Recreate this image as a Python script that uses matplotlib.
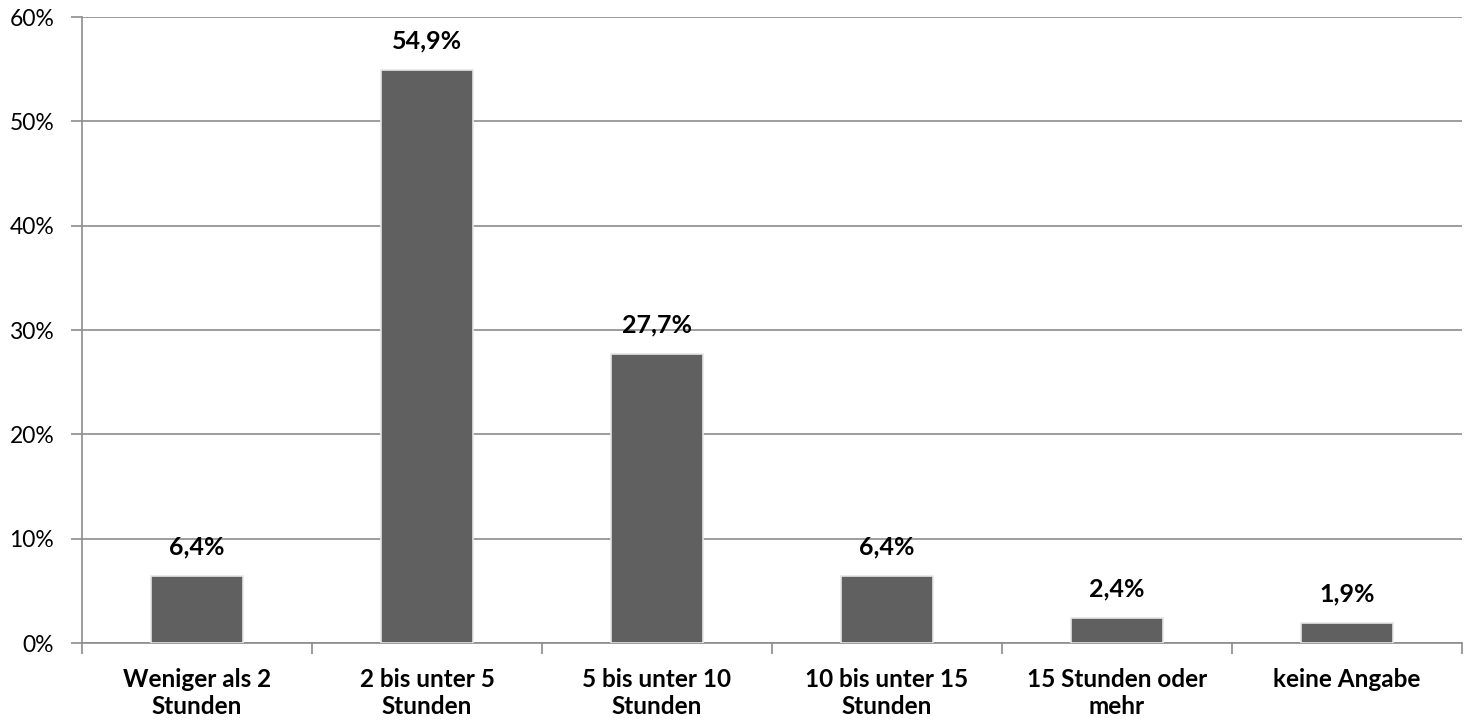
import matplotlib.pyplot as plt
from matplotlib.ticker import FuncFormatter

categories = ['Weniger als 2\nStunden', '2 bis unter 5\nStunden', '5 bis unter 10\nStunden',
              '10 bis unter 15\nStunden', '15 Stunden oder\nmehr', 'keine Angabe']
shares = [6.4, 54.9, 27.7, 6.4, 2.4, 1.9]
value_labels = ['6,4%', '54,9%', '27,7%', '6,4%', '2,4%', '1,9%']

plt.rcParams['font.family'] = ['Lato', 'DejaVu Sans']

fig = plt.figure(figsize=(14.67, 7.21), dpi=100)
ax = fig.add_axes([82 / 1467, 78 / 721, 1380 / 1467, 626 / 721])

x = list(range(len(categories)))
ax.bar(x, shares, width=0.4, color='#606060', edgecolor='#e6e6e6', linewidth=1.2, zorder=3)

for xi, v, lab in zip(x, shares, value_labels):
    ax.text(xi, v + 2.1, lab, ha='center', va='baseline', fontsize=18, fontweight='bold', color='black')

ax.set_xlim(-0.5, len(categories) - 0.5)
ax.set_ylim(0, 60)
ax.set_yticks(range(0, 61, 10))
ax.yaxis.set_major_formatter(FuncFormatter(lambda v, p: f'{int(v)}%'))
ax.yaxis.grid(True, color='#8c8c8c', linewidth=1.2, zorder=0)

ax.set_xticks(x)
ax.set_xticklabels(categories, fontsize=17.5, fontweight='bold', linespacing=1.2)
ax.set_xticks([i + 0.5 for i in range(-1, len(categories))], minor=True)
ax.tick_params(axis='x', which='major', length=0, pad=18)
ax.tick_params(axis='x', which='minor', length=8, color='#8c8c8c', width=1.2)
ax.tick_params(axis='y', length=8, color='#8c8c8c', width=1.2, labelsize=16.5, pad=12)

for side in ['top', 'right']:
    ax.spines[side].set_visible(False)
for side in ['left', 'bottom']:
    ax.spines[side].set_color('#8c8c8c')
    ax.spines[side].set_linewidth(1.2)

fig.savefig('out.png', dpi=100)
